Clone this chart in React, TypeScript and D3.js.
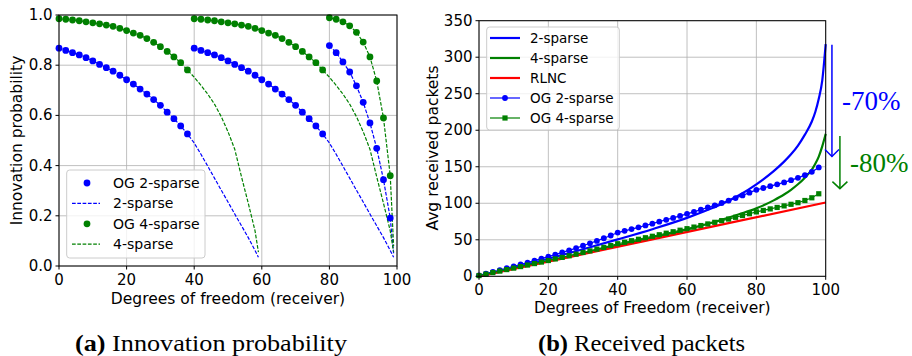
import * as d3 from 'd3';
import React from 'react';

// ---- (a) innovation probability, OG points every 2 DoF ----
const ogStep = 2;
const og2First = [0.868, 0.859, 0.85, 0.841, 0.83, 0.817, 0.803, 0.79, 0.776, 0.76, 0.742, 0.725, 0.705, 0.685, 0.663, 0.64, 0.613, 0.587, 0.558, 0.526];
const og2Second = [0.868, 0.859, 0.85, 0.841, 0.83, 0.817, 0.803, 0.79, 0.776, 0.76, 0.742, 0.725, 0.705, 0.685, 0.663, 0.64, 0.613, 0.587, 0.558, 0.526];
const og2Third = [0.878, 0.85, 0.813, 0.773, 0.718, 0.652, 0.57, 0.469, 0.344, 0.191];
const og4First = [0.985, 0.983, 0.98, 0.977, 0.973, 0.969, 0.965, 0.96, 0.955, 0.947, 0.938, 0.928, 0.919, 0.906, 0.891, 0.874, 0.855, 0.833, 0.81, 0.781];
const og4Second = [0.985, 0.983, 0.98, 0.977, 0.973, 0.969, 0.965, 0.96, 0.955, 0.947, 0.938, 0.928, 0.919, 0.906, 0.891, 0.874, 0.855, 0.833, 0.81, 0.781];
const og4Third = [0.989, 0.983, 0.973, 0.957, 0.931, 0.892, 0.833, 0.737, 0.59, 0.36];
const segStarts = [0, 40, 80];

// theoretical curves past the last OG point (DoF offsets 40..58, 59)
const tailK = [40, 42, 44, 46, 48, 50, 52, 54, 56, 58, 59];
const sparse2Tail = [0.49, 0.445, 0.398, 0.35, 0.302, 0.255, 0.207, 0.16, 0.113, 0.062, 0.035];
const sparse4Tail = [0.752, 0.72, 0.685, 0.645, 0.595, 0.535, 0.465, 0.355, 0.25, 0.14, 0.055];
const lastK = 19;
const sparse2LastTail = 0.05;
const sparse4LastTail = 0.08;

const probTicks = [0, 0.2, 0.4, 0.6, 0.8, 1.0];
const dofTicks = [0, 20, 40, 60, 80, 100];

// ---- (b) received packets ----
const curveX = [0, 10, 20, 30, 40, 50, 60, 65, 70, 75, 80, 85, 88, 90, 92, 94, 96, 97, 98, 99, 100];
const sparse2Packets = [0, 11.5, 24, 37, 50.5, 64.5, 80, 89, 99, 111, 126, 144, 157, 167, 179, 194, 212, 225, 243, 268, 318];
const sparse4Packets = [0, 10.5, 21, 31.6, 42.3, 53.1, 64, 70.5, 77.5, 85, 93, 104, 112, 118.5, 126, 135, 146, 154, 164, 178, 195];
const rlncX = [0, 25, 50, 75, 100];
const rlncPackets = [0, 25.3, 50.5, 75.8, 101];
const og2Packets = [
    1.3, 3.7, 6.1, 8.5, 11.0, 13.5, 16.2, 18.8, 21.4, 24.2, 26.9, 29.7, 32.7, 35.6, 38.6, 41.8, 45.2, 48.5, 52.1, 55.9,
    59.9, 62.3, 64.7, 67.1, 69.6, 72.1, 74.8, 77.4, 80.0, 82.7, 85.5, 88.3, 91.2, 94.2, 97.2, 100.4, 103.7, 107.1, 110.7, 114.5,
    118.4, 120.9, 123.4, 125.9, 128.6, 131.6, 134.8, 138.5, 143.0, 149.1,
];
const og4Packets = [
    1.0, 3.0, 5.1, 7.1, 9.2, 11.2, 13.3, 15.4, 17.4, 19.5, 21.6, 23.8, 25.9, 28.1, 30.3, 32.6, 34.8, 37.2, 39.6, 42.1,
    44.6, 46.6, 48.7, 50.7, 52.8, 54.8, 56.9, 59.0, 61.0, 63.1, 65.2, 67.4, 69.5, 71.7, 73.9, 76.2, 78.4, 80.8, 83.2, 85.7,
    88.2, 90.2, 92.3, 94.3, 96.4, 98.6, 100.8, 103.8, 107.5, 113.0,
];
const packetTicks = [0, 50, 100, 150, 200, 250, 300, 350];

const BLUE = '#0000ff';
const GREEN = '#008000';
const RED = '#ff0000';
const GRID = '#b0b0b0';
const SANS = 'DejaVu Sans, sans-serif';
const SERIF = 'Liberation Serif, serif';

const xL = d3.scaleLinear().domain([0, 100]).range([59, 397]);
const yL = d3.scaleLinear().domain([0, 1]).range([266, 15]);
const xR = d3.scaleLinear().domain([0, 100]).range([479, 825.7]);
const yR = d3.scaleLinear().domain([0, 350]).range([276.3, 20.7]);

const LeftPanel = (): React.ReactElement => {
    const line = d3
        .line<[number, number]>()
        .x((d) => xL(d[0]))
        .y((d) => yL(d[1]));
    const [x0, x1] = xL.range();
    const [y0, y1] = yL.range();

    const og2 = [og2First, og2Second, og2Third];
    const og4 = [og4First, og4Second, og4Third];

    // dashed theoretical curves
    const curve = (seg: number[], start: number, tail: number[], lastVal: number, isLast: boolean) => {
        const pts: [number, number][] = seg.map((v, i) => [start + i * ogStep, v]);
        if (isLast) pts.push([start + lastK, lastVal]);
        else tailK.forEach((k, i) => pts.push([start + k, tail[i]]));
        return pts;
    };

    return (
        <g>
            {dofTicks.map((t) => (
                <line key={'gx' + t} x1={xL(t)} x2={xL(t)} y1={y0} y2={y1} stroke={GRID} strokeWidth={0.8} />
            ))}
            {probTicks.map((t) => (
                <line key={'gy' + t} x1={x0} x2={x1} y1={yL(t)} y2={yL(t)} stroke={GRID} strokeWidth={0.8} />
            ))}

            {segStarts.map((s, i) => (
                <path key={'c2' + s} d={line(curve(og2[i], s, sparse2Tail, sparse2LastTail, i === 2)) || ''} fill="none" stroke={BLUE} strokeWidth={1.2} strokeDasharray="3.7,1.6" />
            ))}
            {segStarts.map((s, i) => (
                <path key={'c4' + s} d={line(curve(og4[i], s, sparse4Tail, sparse4LastTail, i === 2)) || ''} fill="none" stroke={GREEN} strokeWidth={1.2} strokeDasharray="3.7,1.6" />
            ))}
            {segStarts.map((s, i) =>
                og2[i].map((v, j) => <circle key={'d2' + s + '-' + j} cx={xL(s + j * ogStep)} cy={yL(v)} r={3.4} fill={BLUE} />),
            )}
            {segStarts.map((s, i) =>
                og4[i].map((v, j) => <circle key={'d4' + s + '-' + j} cx={xL(s + j * ogStep)} cy={yL(v)} r={3.4} fill={GREEN} />),
            )}

            <rect x={x0} y={y1} width={x1 - x0} height={y0 - y1} fill="none" stroke="#000" strokeWidth={1} />

            {/* ticks */}
            {dofTicks.map((t) => (
                <g key={'tx' + t}>
                    <line x1={xL(t)} x2={xL(t)} y1={y0} y2={y0 + 3.5} stroke="#000" />
                    <text x={xL(t)} y={285} textAnchor="middle" fontSize={15} fontFamily={SANS}>
                        {t}
                    </text>
                </g>
            ))}
            {probTicks.map((t) => (
                <g key={'ty' + t}>
                    <line x1={x0 - 3.5} x2={x0} y1={yL(t)} y2={yL(t)} stroke="#000" />
                    <text x={x0 - 6.5} y={yL(t)} textAnchor="end" dominantBaseline="central" fontSize={15} fontFamily={SANS}>
                        {d3.format('.1f')(t)}
                    </text>
                </g>
            ))}
            <text x={(x0 + x1) / 2} y={299} textAnchor="middle" dominantBaseline="central" fontSize={15.5} fontFamily={SANS}>
                Degrees of freedom (receiver)
            </text>
            <text transform={`translate(17,${(y0 + y1) / 2}) rotate(-90)`} textAnchor="middle" dominantBaseline="central" fontSize={15.5} fontFamily={SANS}>
                Innovation probability
            </text>

            {/* legend */}
            <rect x={66.7} y={170} width={138.3} height={88} rx={3} fill="#fff" fillOpacity={0.8} stroke="#cccccc" />
            {[
                { label: 'OG 2-sparse', color: BLUE, dot: true },
                { label: '2-sparse', color: BLUE, dot: false },
                { label: 'OG 4-sparse', color: GREEN, dot: true },
                { label: '4-sparse', color: GREEN, dot: false },
            ].map((e, i) => {
                const y = 183 + i * 20.4;
                return (
                    <g key={e.label}>
                        {e.dot ? (
                            <circle cx={87} cy={y} r={3.4} fill={e.color} />
                        ) : (
                            <line x1={72} x2={100} y1={y} y2={y} stroke={e.color} strokeWidth={1.2} strokeDasharray="3.7,1.6" />
                        )}
                        <text x={113} y={y} dominantBaseline="central" fontSize={14} fontFamily={SANS}>
                            {e.label}
                        </text>
                    </g>
                );
            })}
        </g>
    );
};

const RightPanel = (): React.ReactElement => {
    const line = d3
        .line<[number, number]>()
        .x((d) => xR(d[0]))
        .y((d) => yR(d[1]));
    const smooth = d3
        .line<[number, number]>()
        .x((d) => xR(d[0]))
        .y((d) => yR(d[1]))
        .curve(d3.curveMonotoneX);
    const [x0, x1] = xR.range();
    const [y0, y1] = yR.range();
    const ogX = d3.range(0, 100, ogStep);

    const s2: [number, number][] = curveX.map((x, i) => [x, sparse2Packets[i]]);
    const s4: [number, number][] = curveX.map((x, i) => [x, sparse4Packets[i]]);
    const rl: [number, number][] = rlncX.map((x, i) => [x, rlncPackets[i]]);
    const o2: [number, number][] = ogX.map((x, i) => [x, og2Packets[i]]);
    const o4: [number, number][] = ogX.map((x, i) => [x, og4Packets[i]]);
    const sq = 5.2;

    // reduction arrows: from the plain curve end to the OG end
    const a70 = { x: xR(101.8), from: yR(317), to: yR(164) };
    const a80 = { x: xR(104.1), from: yR(192), to: yR(120) };

    return (
        <g>
            {dofTicks.map((t) => (
                <line key={'gx' + t} x1={xR(t)} x2={xR(t)} y1={y0} y2={y1} stroke={GRID} strokeWidth={0.8} />
            ))}
            {packetTicks.map((t) => (
                <line key={'gy' + t} x1={x0} x2={x1} y1={yR(t)} y2={yR(t)} stroke={GRID} strokeWidth={0.8} />
            ))}

            <path d={smooth(s2) || ''} fill="none" stroke={BLUE} strokeWidth={2.2} />
            <path d={smooth(s4) || ''} fill="none" stroke={GREEN} strokeWidth={2.2} />
            <path d={line(rl) || ''} fill="none" stroke={RED} strokeWidth={2.2} />
            <path d={line(o2) || ''} fill="none" stroke={BLUE} strokeWidth={1.2} />
            {o2.map((d) => (
                <circle key={'o2' + d[0]} cx={xR(d[0])} cy={yR(d[1])} r={2.9} fill={BLUE} />
            ))}
            <path d={line(o4) || ''} fill="none" stroke={GREEN} strokeWidth={1.2} />
            {o4.map((d) => (
                <rect key={'o4' + d[0]} x={xR(d[0]) - sq / 2} y={yR(d[1]) - sq / 2} width={sq} height={sq} fill={GREEN} />
            ))}

            <rect x={x0} y={y1} width={x1 - x0} height={y0 - y1} fill="none" stroke="#000" strokeWidth={1} />

            {dofTicks.map((t) => (
                <g key={'tx' + t}>
                    <line x1={xR(t)} x2={xR(t)} y1={y0} y2={y0 + 3.5} stroke="#000" />
                    <text x={xR(t)} y={295} textAnchor="middle" fontSize={15} fontFamily={SANS}>
                        {t}
                    </text>
                </g>
            ))}
            {packetTicks.map((t) => (
                <g key={'ty' + t}>
                    <line x1={x0 - 3.5} x2={x0} y1={yR(t)} y2={yR(t)} stroke="#000" />
                    <text x={x0 - 6.5} y={yR(t)} textAnchor="end" dominantBaseline="central" fontSize={15} fontFamily={SANS}>
                        {t}
                    </text>
                </g>
            ))}
            <text x={(x0 + x1) / 2} y={308} textAnchor="middle" dominantBaseline="central" fontSize={15.5} fontFamily={SANS}>
                Degrees of Freedom (receiver)
            </text>
            <text transform="translate(433,148) rotate(-90)" textAnchor="middle" dominantBaseline="central" fontSize={15.5} fontFamily={SANS}>
                Avg received packets
            </text>

            {/* legend */}
            <rect x={486.7} y={27} width={132.6} height={103} rx={3} fill="#fff" fillOpacity={0.8} stroke="#cccccc" />
            {[
                { label: '2-sparse', color: BLUE, mark: '' },
                { label: '4-sparse', color: GREEN, mark: '' },
                { label: 'RLNC', color: RED, mark: '' },
                { label: 'OG 2-sparse', color: BLUE, mark: 'o' },
                { label: 'OG 4-sparse', color: GREEN, mark: 's' },
            ].map((e, i) => {
                const y = 38 + i * 20;
                return (
                    <g key={e.label}>
                        <line x1={490} x2={520} y1={y} y2={y} stroke={e.color} strokeWidth={e.mark ? 1.2 : 2.2} />
                        {e.mark === 'o' && <circle cx={505} cy={y} r={2.9} fill={e.color} />}
                        {e.mark === 's' && <rect x={505 - sq / 2} y={y - sq / 2} width={sq} height={sq} fill={e.color} />}
                        <text x={530} y={y} dominantBaseline="central" fontSize={13.5} fontFamily={SANS}>
                            {e.label}
                        </text>
                    </g>
                );
            })}

            {/* annotations */}
            <line x1={a70.x} x2={a70.x} y1={a70.from} y2={a70.to} stroke={BLUE} strokeWidth={1.5} />
            <polyline points={`${a70.x - 7},${a70.to - 7} ${a70.x},${a70.to} ${a70.x + 7},${a70.to - 7}`} fill="none" stroke={BLUE} strokeWidth={1.5} />
            <text x={842} y={110} fill={BLUE} fontSize={27} fontFamily={SERIF}>
                -70%
            </text>
            <line x1={a80.x} x2={a80.x} y1={a80.from} y2={a80.to} stroke={GREEN} strokeWidth={1.5} />
            <polyline points={`${a80.x - 7.5},${a80.to - 7} ${a80.x},${a80.to} ${a80.x + 7.5},${a80.to - 7}`} fill="none" stroke={GREEN} strokeWidth={1.5} />
            <text x={850} y={171.7} fill={GREEN} fontSize={27} fontFamily={SERIF}>
                -80%
            </text>
        </g>
    );
};

const App = (): React.ReactElement => {
    return (
        <svg width={912} height={356} style={{ position: 'absolute', left: 0, top: 0, background: '#fff' }}>
            <LeftPanel />
            <RightPanel />
            <text x={75} y={351} textLength={272} lengthAdjust="spacingAndGlyphs" fontSize={23} fontFamily={SERIF}>
                <tspan fontWeight="bold">(a)</tspan> Innovation probability
            </text>
            <text x={538} y={351} textLength={207} lengthAdjust="spacingAndGlyphs" fontSize={23} fontFamily={SERIF}>
                <tspan fontWeight="bold">(b)</tspan> Received packets
            </text>
        </svg>
    );
};

export default App;
